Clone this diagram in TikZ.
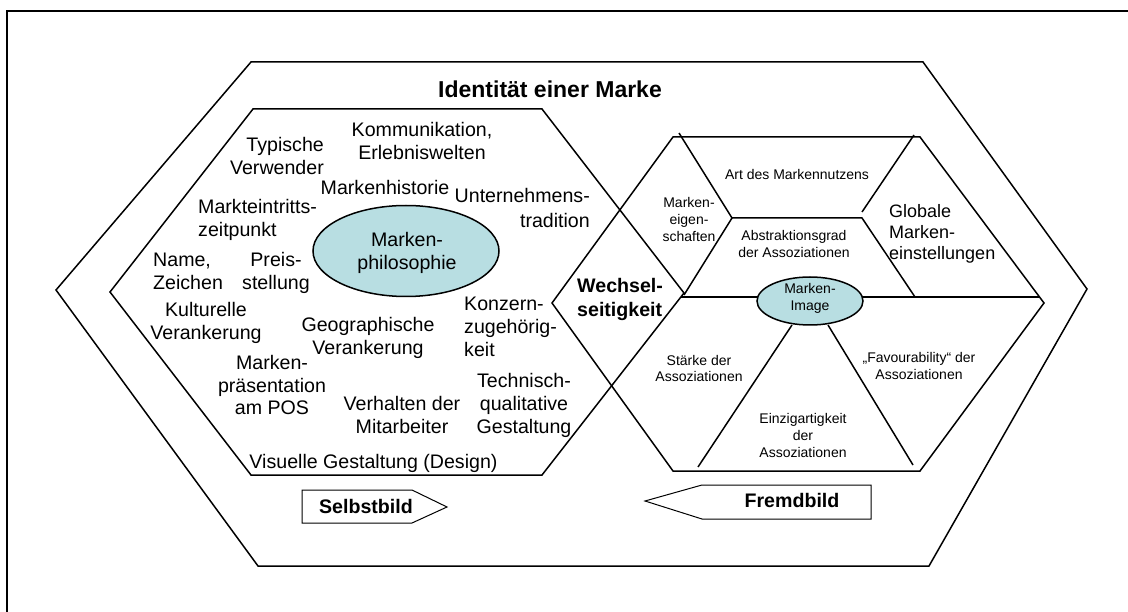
\documentclass[tikz,border=0pt]{standalone}
\usepackage{fontspec}
\setmainfont{Liberation Sans}
\definecolor{ellfill}{RGB}{184,222,226}
\begin{document}
\begin{tikzpicture}[x=1pt,y=-1pt, line join=miter,
  frameline/.style={draw=black, line width=1.3pt},
  hexline/.style={draw=black, line width=1.5pt},
  thinline/.style={draw=black, line width=1pt},
  ellnode/.style={draw=black, line width=1.5pt, fill=ellfill},
  bigtext/.style={font=\fontsize{19.6}{23}\selectfont, inner sep=0pt, anchor=base},
  boldtext/.style={font=\bfseries\fontsize{19.6}{24}\selectfont, inner sep=0pt, anchor=base},
  smalltext/.style={font=\fontsize{14}{17}\selectfont, inner sep=0pt, anchor=base, align=center},
  globtext/.style={font=\fontsize{18}{21}\selectfont, inner sep=0pt, anchor=base west, align=left}
]
\useasboundingbox (0,0) rectangle (1128,612);
% frame
\coordinate (fa) at (7,612);
\coordinate (fb) at (7,11);
\coordinate (fc) at (1128,11);
\draw[frameline] (fa) -- (fb) -- (fc);

% outer hexagon
\coordinate (o1) at (251,62);
\coordinate (o2) at (923,62);
\coordinate (o3) at (1087,289);
\coordinate (o4) at (929,566);
\coordinate (o5) at (258,566);
\coordinate (o6) at (56,290);
\draw[hexline] (o1) -- (o2) -- (o3) -- (o4) -- (o5) -- (o6) -- cycle;

% left hexagon (Selbstbild)
\coordinate (l1) at (253,109);
\coordinate (l2) at (542,109);
\coordinate (l3) at (684,293);
\coordinate (l4) at (542,475);
\coordinate (l5) at (251,475);
\coordinate (l6) at (110,292);
\draw[hexline] (l1) -- (l2) -- (l3) -- (l4) -- (l5) -- (l6) -- cycle;

% right hexagon (Fremdbild)
\coordinate (r1) at (673,137);
\coordinate (r2) at (920,137);
\coordinate (r3) at (1044,303);
\coordinate (r4) at (920,471);
\coordinate (r5) at (673,471);
\coordinate (r6) at (552,303);
\draw[hexline] (r1) -- (r2) -- (r3) -- (r4) -- (r5) -- (r6) -- cycle;

% inner lines of right hexagon
\coordinate (e1) at (679,133);
\coordinate (e2) at (732,218);
\coordinate (e3) at (684,295);
\coordinate (a2) at (862,218);
\coordinate (a3) at (915,297);
\coordinate (g1) at (862,212);
\coordinate (g2) at (914,135);
\coordinate (h1) at (681,297);
\coordinate (h2) at (1039,297);
\coordinate (s1) at (792,325);
\coordinate (s2) at (698,467);
\coordinate (f1) at (828,325);
\coordinate (f2) at (913,465);
\draw[hexline] (e1) -- (e2) -- (e3);
\draw[hexline] (e2) -- (a2) -- (a3);
\draw[hexline] (g1) -- (g2);
\draw[hexline] (h1) -- (h2);
\draw[hexline] (s1) -- (s2);
\draw[hexline] (f1) -- (f2);

% ellipses
\draw[ellnode] (406,251) ellipse [x radius=93, y radius=45.5];
\draw[ellnode] (810,301) ellipse [x radius=53, y radius=24];

% title
\node[font=\bfseries\fontsize{23}{27}\selectfont, inner sep=0pt, anchor=base] (title) at (550,98) {Identität einer Marke};

% left hexagon texts (anchor base = baseline of last line)
\node[bigtext, align=right, anchor=base east] (typ) at (324,175) {Typische\\Verwender};
\node[bigtext, align=center] (kom) at (422,160) {Kommunikation,\\Erlebniswelten};
\node[bigtext] (hist) at (385,195) {Markenhistorie};
\node[bigtext, align=right, anchor=base east, font=\fontsize{19.6}{25}\selectfont] (unt) at (590,228) {Unternehmens-\\tradition};
\node[bigtext, align=left, anchor=base west] (mkt) at (198,237) {Markteintritts-\\zeitpunkt};
\node[bigtext, align=center] (phil) at (407,270) {Marken-\\philosophie};
\node[bigtext, align=left, anchor=base west] (name) at (153,290) {Name,\\Zeichen};
\node[bigtext, align=center] (preis) at (276,290) {Preis-\\stellung};
\node[bigtext, align=center] (kult) at (206,340) {Kulturelle\\Verankerung};
\node[bigtext, align=center] (geo) at (368,355) {Geographische\\Verankerung};
\node[bigtext, align=center] (praes) at (272,415) {Marken-\\präsentation\\am POS};
\node[bigtext, align=center] (verh) at (402,433) {Verhalten der\\Mitarbeiter};
\node[bigtext, align=left, anchor=base west] (konz) at (464,357) {Konzern-\\zugehörig-\\keit};
\node[bigtext, align=center] (tech) at (524,433) {Technisch-\\qualitative\\Gestaltung};
\node[bigtext] (vis) at (373.5,468) {Visuelle Gestaltung (Design)};
\node[boldtext, align=left, anchor=base west] (wech) at (577,317) {Wechsel-\\seitigkeit};

% right hexagon texts
\node[smalltext] (nutzen) at (797,180) {Art des Markennutzens};
\node[smalltext] (eig) at (689,242) {Marken-\\eigen-\\schaften};
\node[smalltext] (abs) at (794,258) {Abstraktionsgrad\\der Assoziationen};
\node[globtext] (glob) at (889,260) {Globale\\Marken-\\einstellungen};
\node[smalltext] (img) at (810,311) {Marken-\\Image};
\node[smalltext] (staerke) at (699,382) {Stärke der\\Assoziationen};
\node[smalltext] (fav) at (919,380) {„Favourability“ der\\Assoziationen};
\node[smalltext] (einz) at (803,457) {Einzigartigkeit\\der\\Assoziationen};

% Selbstbild arrow
\coordinate (sb1) at (302,490);
\coordinate (sb2) at (412,490);
\coordinate (sb3) at (447,507);
\coordinate (sb4) at (412,523);
\coordinate (sb5) at (302,523);
\draw[thinline] (sb1) -- (sb2) -- (sb3) -- (sb4) -- (sb5) -- cycle;
\node[boldtext] (selbst) at (366,513) {Selbstbild};

% Fremdbild arrow
\coordinate (fb1) at (645,501);
\coordinate (fb2) at (702,485);
\coordinate (fb3) at (871,485);
\coordinate (fb4) at (871,519);
\coordinate (fb5) at (702,519);
\draw[thinline] (fb1) -- (fb2) -- (fb3) -- (fb4) -- (fb5) -- cycle;
\node[boldtext] (fremd) at (792,507) {Fremdbild};
\end{tikzpicture}
\end{document}
